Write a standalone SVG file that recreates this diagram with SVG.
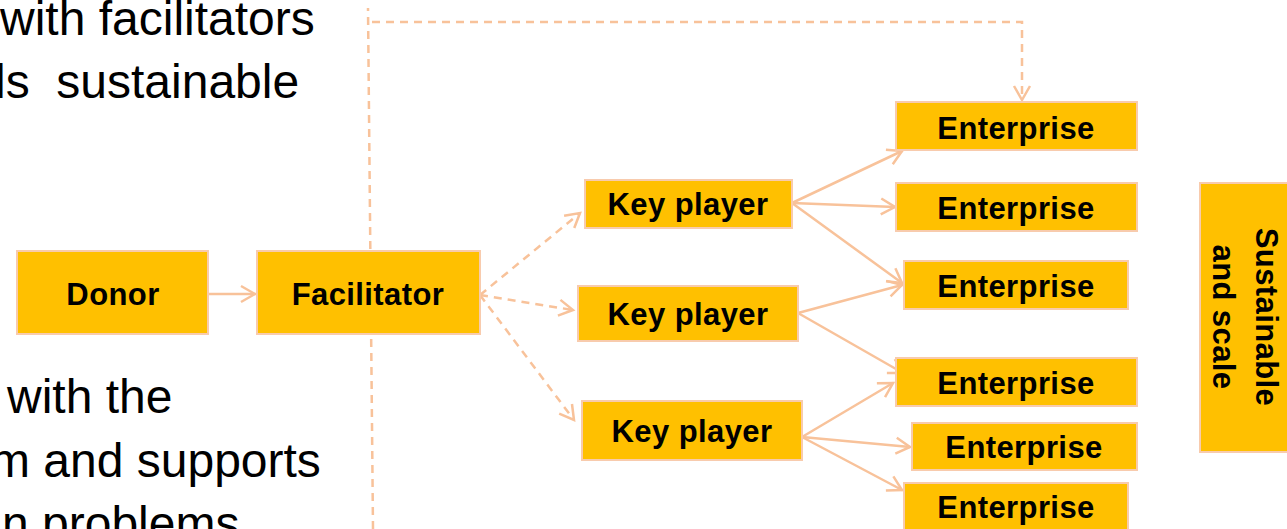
<svg xmlns="http://www.w3.org/2000/svg" width="1287" height="529" viewBox="0 0 1287 529">
<style>
.box{fill:#FFC000;stroke:#F8CBAD;stroke-width:2}
.lbl{font-family:"Liberation Sans",Arial,sans-serif;font-weight:bold;font-size:31px;letter-spacing:0.4px;fill:#000;text-anchor:middle}
.body{font-family:"Liberation Sans",Arial,sans-serif;font-size:48px;fill:#000}
.c{fill:none;stroke:#F8C29A;stroke-width:2.5;stroke-linecap:round}
.d{stroke-dasharray:8 6;stroke-linecap:butt}
</style>
<defs>
<marker id="ah" viewBox="-16 -10 20 20" refX="0" refY="0" markerWidth="20" markerHeight="20" markerUnits="userSpaceOnUse" orient="auto">
<path d="M-14,-8 L0,0 L-14,8" fill="none" stroke="#F8C29A" stroke-width="2.5"/>
</marker>
</defs>
<g id="bodytext">
<text class="body" x="0" y="35">with facilitators</text>
<text class="body" x="-5" y="98" xml:space="preserve">ls  sustainable</text>
<text class="body" x="7" y="413">with the</text>
<text class="body" x="-10" y="477">m and supports</text>
<text class="body" x="2" y="540">n problems</text>
</g>
<g id="connectors">
<line class="c d" x1="373" y1="529" x2="368" y2="8"/>
<path class="c d" d="M372,22 H1022 V100" marker-end="url(#ah)"/>
<line class="c" x1="208" y1="294" x2="255" y2="294" marker-end="url(#ah)"/>
<line class="c d" x1="480" y1="295" x2="580" y2="213" marker-end="url(#ah)"/>
<line class="c d" x1="480" y1="295" x2="573" y2="310" marker-end="url(#ah)"/>
<line class="c d" x1="480" y1="295" x2="574" y2="420" marker-end="url(#ah)"/>
<line class="c" x1="792" y1="203" x2="902" y2="151" marker-end="url(#ah)"/>
<line class="c" x1="792" y1="203" x2="895" y2="207" marker-end="url(#ah)"/>
<line class="c" x1="792" y1="203" x2="902" y2="283" marker-end="url(#ah)"/>
<line class="c" x1="798" y1="313" x2="902" y2="285" marker-end="url(#ah)"/>
<line class="c" x1="798" y1="313" x2="903" y2="373" marker-end="url(#ah)"/>
<line class="c" x1="802" y1="437" x2="893" y2="383" marker-end="url(#ah)"/>
<line class="c" x1="802" y1="437" x2="910" y2="447" marker-end="url(#ah)"/>
<line class="c" x1="802" y1="437" x2="902" y2="490" marker-end="url(#ah)"/>
</g>
<g id="donor"><rect class="box" x="17" y="251" width="191" height="83"/><text class="lbl" x="113" y="305">Donor</text></g>
<g id="facilitator"><rect class="box" x="257" y="251" width="223" height="83"/><text class="lbl" x="368" y="305">Facilitator</text></g>
<g id="keyplayer1"><rect class="box" x="585" y="180" width="207" height="48"/><text class="lbl" x="688" y="215">Key player</text></g>
<g id="keyplayer2"><rect class="box" x="578" y="286" width="220" height="55"/><text class="lbl" x="688" y="325">Key player</text></g>
<g id="keyplayer3"><rect class="box" x="582" y="401" width="220" height="59"/><text class="lbl" x="692" y="442">Key player</text></g>
<g id="enterprise1"><rect class="box" x="896" y="102" width="241" height="48"/><text class="lbl" x="1016" y="139">Enterprise</text></g>
<g id="enterprise2"><rect class="box" x="896" y="183" width="241" height="48"/><text class="lbl" x="1016" y="219">Enterprise</text></g>
<g id="enterprise3"><rect class="box" x="904" y="261" width="224" height="48"/><text class="lbl" x="1016" y="297">Enterprise</text></g>
<g id="enterprise4"><rect class="box" x="896" y="358" width="241" height="48"/><text class="lbl" x="1016" y="394">Enterprise</text></g>
<g id="enterprise5"><rect class="box" x="912" y="423" width="225" height="47"/><text class="lbl" x="1024" y="458">Enterprise</text></g>
<g id="enterprise6"><rect class="box" x="904" y="483" width="224" height="60"/><text class="lbl" x="1016" y="518">Enterprise</text></g>
<g id="sustainable"><rect class="box" x="1200" y="183" width="100" height="269"/>
<text class="lbl" transform="translate(1256,317) rotate(90)"><tspan x="0" y="0">Sustainable</tspan><tspan x="0" y="43">and scale</tspan></text></g>
</svg>
